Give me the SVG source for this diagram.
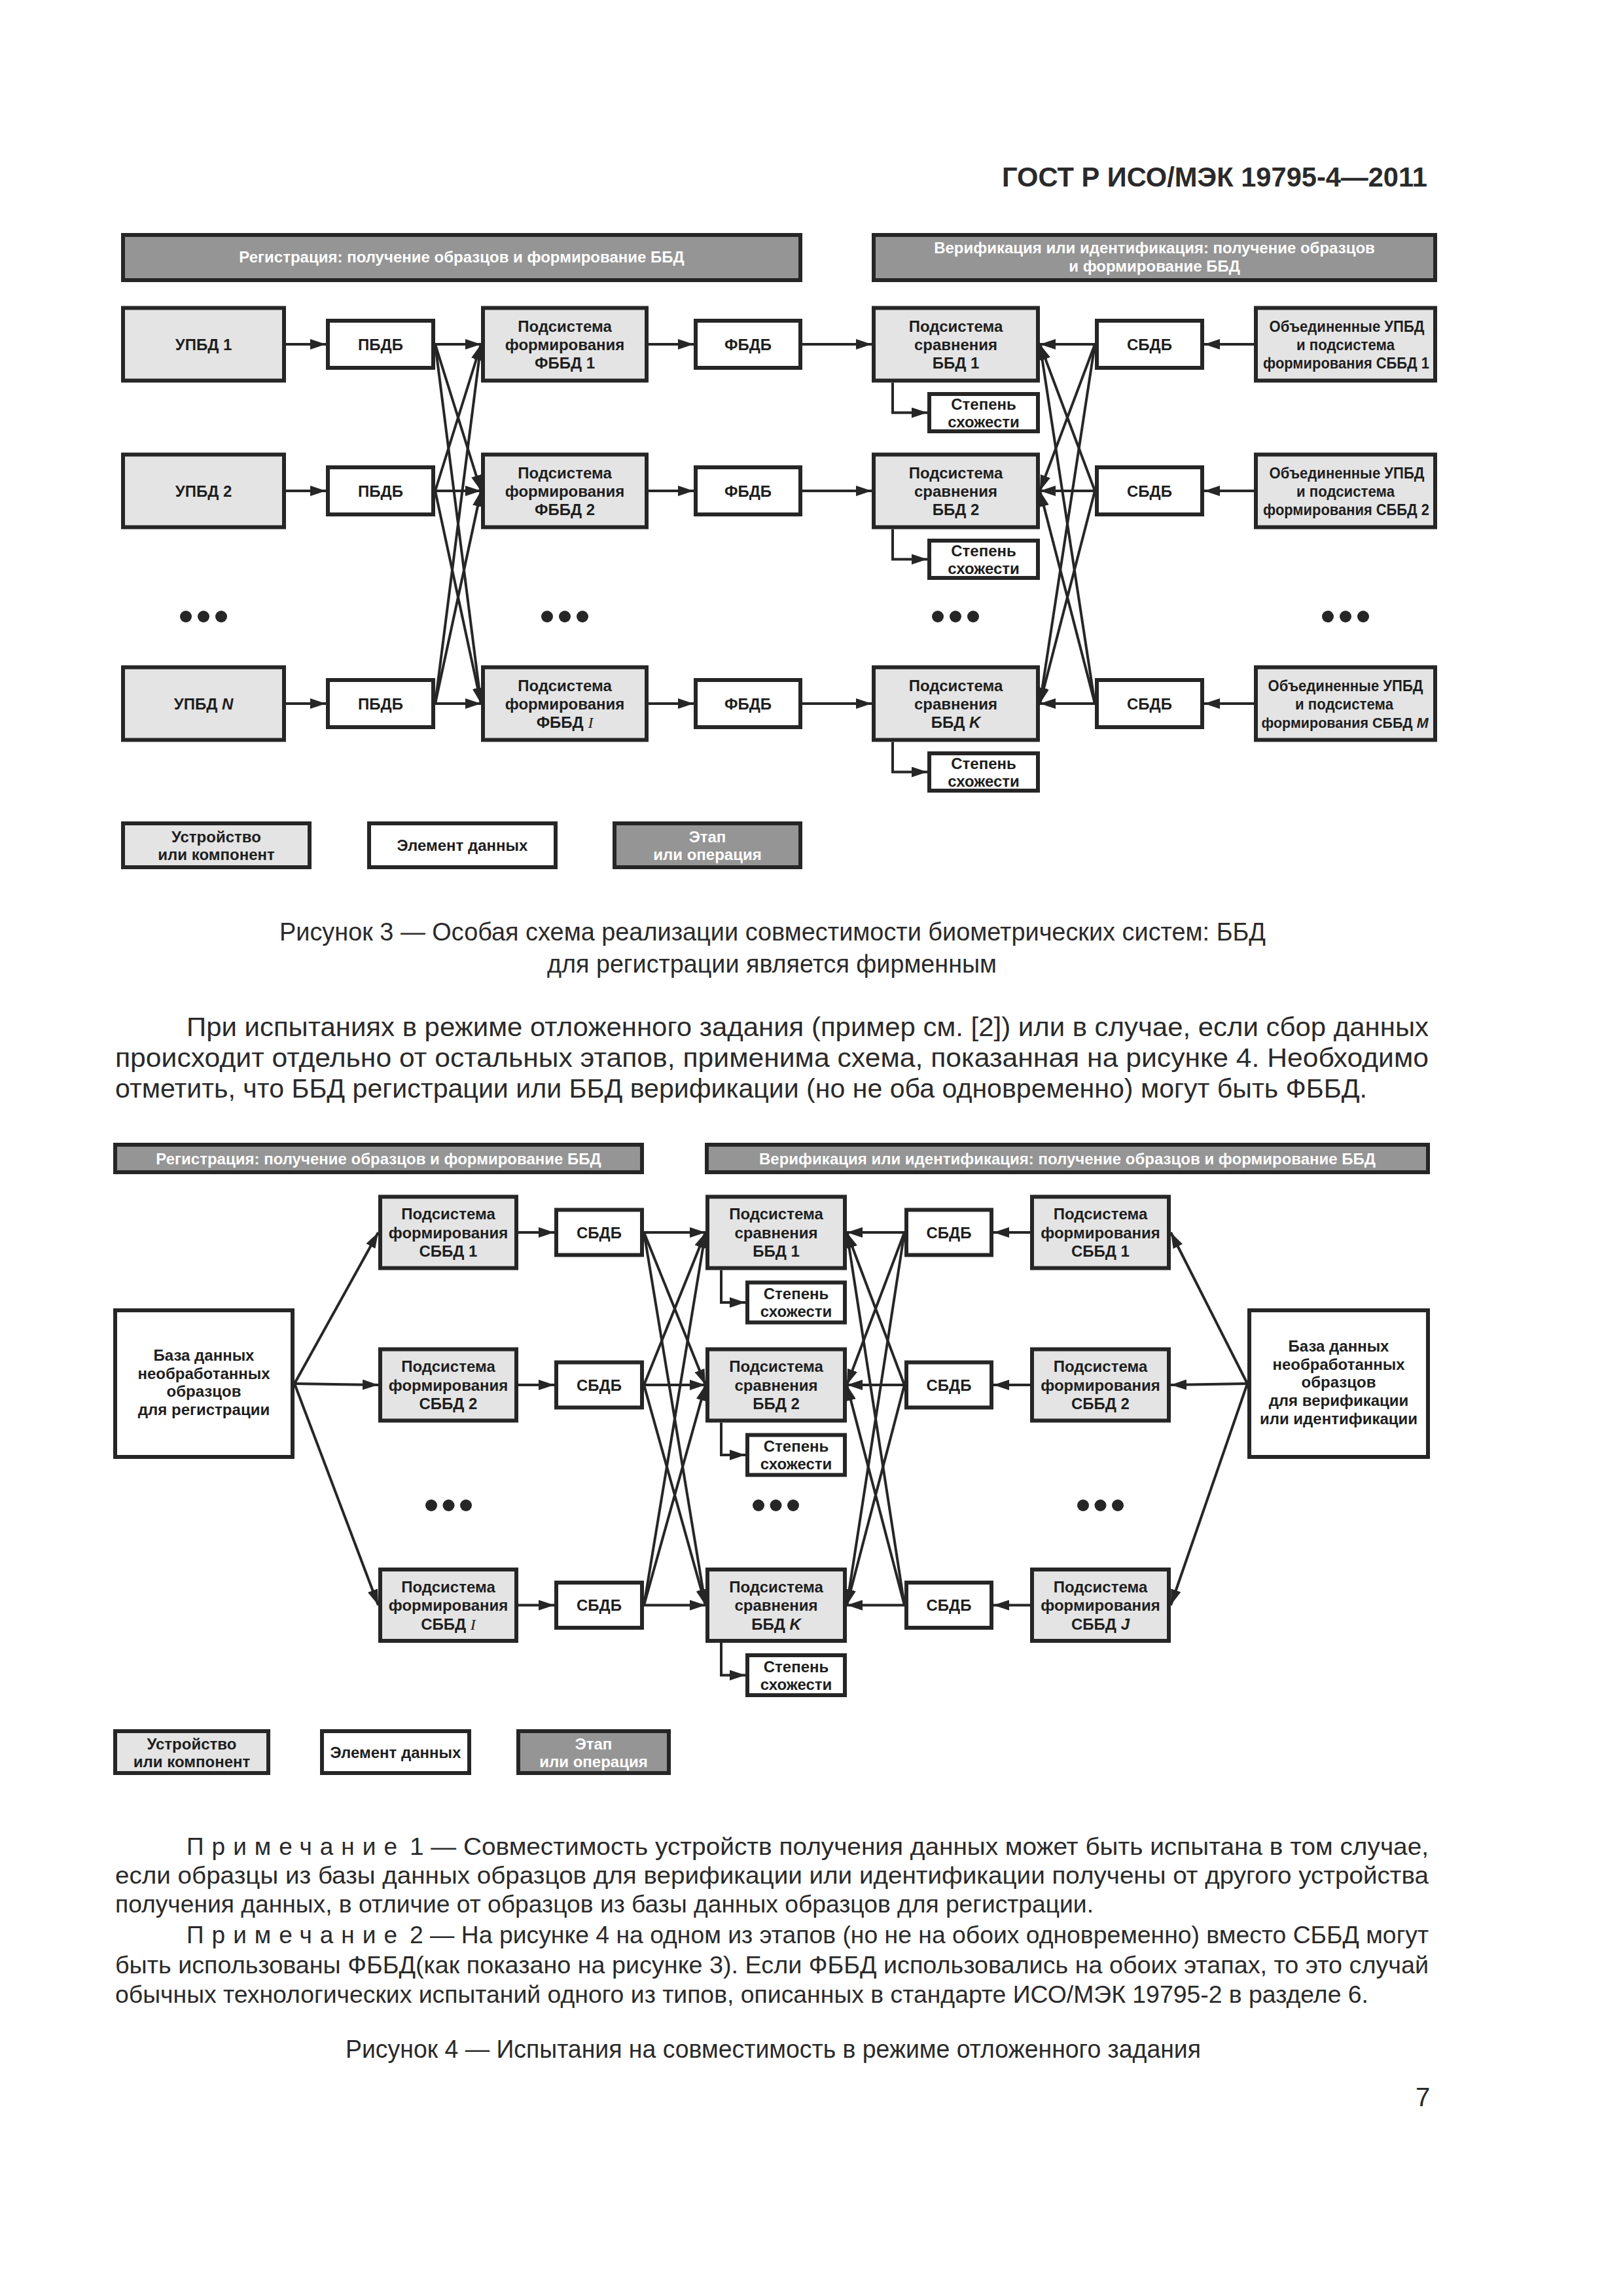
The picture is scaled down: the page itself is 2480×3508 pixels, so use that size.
<svg xmlns="http://www.w3.org/2000/svg" width="2480" height="3508" viewBox="0 0 2480 3508">
<style>
.bg{fill:#ffffff}
.dev{fill:#e4e4e4;stroke:#262626;stroke-width:6}
.dat{fill:#ffffff;stroke:#262626;stroke-width:6}
.stg{fill:#959595;stroke:#262626;stroke-width:6}
.t{font-family:"Liberation Sans",Arial,sans-serif;font-size:24px;font-weight:bold;fill:#1e1e1e;text-anchor:middle}
.tw{font-family:"Liberation Sans",Arial,sans-serif;font-size:24px;font-weight:bold;fill:#ffffff;text-anchor:middle}
.it{font-style:italic}
.ser{font-family:"Liberation Serif","Times New Roman",serif;font-style:italic;font-weight:normal}
.ln{fill:none;stroke:#262626;stroke-width:4;marker-end:url(#ah)}
.dot{fill:#262626}
.body{font-family:"Liberation Sans",Arial,sans-serif;font-size:40px;fill:#2a2a2a}
.note{font-family:"Liberation Sans",Arial,sans-serif;font-size:37px;fill:#2a2a2a}
.cap{font-family:"Liberation Sans",Arial,sans-serif;font-size:38px;fill:#2a2a2a}
.hdr{font-family:"Liberation Sans",Arial,sans-serif;font-size:42px;font-weight:bold;fill:#2a2a2a}
</style>
<defs>
<marker id="ah" markerUnits="userSpaceOnUse" markerWidth="24" markerHeight="16" viewBox="0 0 24 16" refX="24" refY="8" orient="auto">
<path d="M0,0 L24,8 L0,16 z" fill="#262626"/>
</marker>
</defs>
<rect class="bg" x="0" y="0" width="2480" height="3508"/>

<text class="hdr" x="2181" y="285" text-anchor="end" textLength="650" lengthAdjust="spacingAndGlyphs">ГОСТ Р ИСО/МЭК 19795-4—2011</text>

<!-- ================= FIGURE 3 ================= -->
<g id="f3-header-reg"><rect class="stg" x="188" y="359" width="1035" height="69"/><text class="tw" x="705.5" y="400.5">Регистрация: получение образцов и формирование ББД</text></g>
<g id="f3-header-ver"><rect class="stg" x="1335" y="359" width="858" height="69"/><text class="tw" x="1764" y="387">Верификация или идентификация: получение образцов</text><text class="tw" x="1764" y="415">и формирование ББД</text></g>

<g id="f3-upbd1"><rect class="dev" x="188" y="470.5" width="246" height="111"/><text class="t" x="311" y="534.5">УПБД 1</text></g>
<g id="f3-upbd2"><rect class="dev" x="188" y="694.5" width="246" height="111"/><text class="t" x="311" y="758.5">УПБД 2</text></g>
<g id="f3-upbdN"><rect class="dev" x="188" y="1019.5" width="246" height="111"/><text class="t" x="311" y="1083.5">УПБД <tspan class="it">N</tspan></text></g>

<g id="f3-pbdb1"><rect class="dat" x="501" y="490" width="161" height="72"/><text class="t" x="581.5" y="534.5">ПБДБ</text></g>
<g id="f3-pbdb2"><rect class="dat" x="501" y="714" width="161" height="72"/><text class="t" x="581.5" y="758.5">ПБДБ</text></g>
<g id="f3-pbdbN"><rect class="dat" x="501" y="1039" width="161" height="72"/><text class="t" x="581.5" y="1083.5">ПБДБ</text></g>

<g id="f3-fbbd1"><rect class="dev" x="738" y="470.5" width="250" height="111"/><text class="t" x="863" y="506.5">Подсистема</text><text class="t" x="863" y="534.5">формирования</text><text class="t" x="863" y="562.5">ФББД 1</text></g>
<g id="f3-fbbd2"><rect class="dev" x="738" y="694.5" width="250" height="111"/><text class="t" x="863" y="730.5">Подсистема</text><text class="t" x="863" y="758.5">формирования</text><text class="t" x="863" y="786.5">ФББД 2</text></g>
<g id="f3-fbbdI"><rect class="dev" x="738" y="1019.5" width="250" height="111"/><text class="t" x="863" y="1055.5">Подсистема</text><text class="t" x="863" y="1083.5">формирования</text><text class="t" x="863" y="1111.5">ФББД <tspan class="ser">I</tspan></text></g>

<g id="f3-fbdb1"><rect class="dat" x="1063" y="490" width="160" height="72"/><text class="t" x="1143" y="534.5">ФБДБ</text></g>
<g id="f3-fbdb2"><rect class="dat" x="1063" y="714" width="160" height="72"/><text class="t" x="1143" y="758.5">ФБДБ</text></g>
<g id="f3-fbdbN"><rect class="dat" x="1063" y="1039" width="160" height="72"/><text class="t" x="1143" y="1083.5">ФБДБ</text></g>

<g id="f3-cmp1"><rect class="dev" x="1335" y="470.5" width="251" height="111"/><text class="t" x="1460.5" y="506.5">Подсистема</text><text class="t" x="1460.5" y="534.5">сравнения</text><text class="t" x="1460.5" y="562.5">ББД 1</text></g>
<g id="f3-cmp2"><rect class="dev" x="1335" y="694.5" width="251" height="111"/><text class="t" x="1460.5" y="730.5">Подсистема</text><text class="t" x="1460.5" y="758.5">сравнения</text><text class="t" x="1460.5" y="786.5">ББД 2</text></g>
<g id="f3-cmpK"><rect class="dev" x="1335" y="1019.5" width="251" height="111"/><text class="t" x="1460.5" y="1055.5">Подсистема</text><text class="t" x="1460.5" y="1083.5">сравнения</text><text class="t" x="1460.5" y="1111.5">ББД <tspan class="it">K</tspan></text></g>

<g id="f3-score1"><rect class="dat" x="1420" y="602" width="166" height="57"/><text class="t" x="1503" y="625.5">Степень</text><text class="t" x="1503" y="652.5">схожести</text></g>
<g id="f3-score2"><rect class="dat" x="1420" y="826" width="166" height="57"/><text class="t" x="1503" y="849.5">Степень</text><text class="t" x="1503" y="876.5">схожести</text></g>
<g id="f3-scoreK"><rect class="dat" x="1420" y="1151" width="166" height="57"/><text class="t" x="1503" y="1174.5">Степень</text><text class="t" x="1503" y="1201.5">схожести</text></g>

<g id="f3-sbdb1"><rect class="dat" x="1676" y="490" width="161" height="72"/><text class="t" x="1756.5" y="534.5">СБДБ</text></g>
<g id="f3-sbdb2"><rect class="dat" x="1676" y="714" width="161" height="72"/><text class="t" x="1756.5" y="758.5">СБДБ</text></g>
<g id="f3-sbdbK"><rect class="dat" x="1676" y="1039" width="161" height="72"/><text class="t" x="1756.5" y="1083.5">СБДБ</text></g>

<g id="f3-comb1"><rect class="dev" x="1919" y="470.5" width="274" height="111"/><text class="t" x="2058" y="506.5" textLength="237" lengthAdjust="spacingAndGlyphs">Объединенные УПБД</text><text class="t" x="2056" y="534.5" textLength="150" lengthAdjust="spacingAndGlyphs">и подсистема</text><text class="t" x="2057" y="562.5" textLength="254" lengthAdjust="spacingAndGlyphs">формирования СББД 1</text></g>
<g id="f3-comb2"><rect class="dev" x="1919" y="694.5" width="274" height="111"/><text class="t" x="2058" y="730.5" textLength="237" lengthAdjust="spacingAndGlyphs">Объединенные УПБД</text><text class="t" x="2056" y="758.5" textLength="150" lengthAdjust="spacingAndGlyphs">и подсистема</text><text class="t" x="2057" y="786.5" textLength="254" lengthAdjust="spacingAndGlyphs">формирования СББД 2</text></g>
<g id="f3-combM"><rect class="dev" x="1919" y="1019.5" width="274" height="111"/><text class="t" x="2056" y="1055.5" textLength="237" lengthAdjust="spacingAndGlyphs">Объединенные УПБД</text><text class="t" x="2054" y="1083.5" textLength="150" lengthAdjust="spacingAndGlyphs">и подсистема</text><text class="t" x="2055" y="1111.5" style="font-size:21.5px">формирования СББД <tspan class="it">M</tspan></text></g>

<g id="f3-dots">
<circle class="dot" cx="284" cy="942" r="9"/><circle class="dot" cx="311" cy="942" r="9"/><circle class="dot" cx="338" cy="942" r="9"/>
<circle class="dot" cx="836" cy="942" r="9"/><circle class="dot" cx="863" cy="942" r="9"/><circle class="dot" cx="890" cy="942" r="9"/>
<circle class="dot" cx="1433" cy="942" r="9"/><circle class="dot" cx="1460" cy="942" r="9"/><circle class="dot" cx="1487" cy="942" r="9"/>
<circle class="dot" cx="2029" cy="942" r="9"/><circle class="dot" cx="2056" cy="942" r="9"/><circle class="dot" cx="2083" cy="942" r="9"/>
</g>

<g id="f3-connectors">
<line class="ln" x1="437" y1="526" x2="498" y2="526"/>
<line class="ln" x1="437" y1="750" x2="498" y2="750"/>
<line class="ln" x1="437" y1="1075" x2="498" y2="1075"/>
<line class="ln" x1="665" y1="526" x2="735" y2="526"/>
<line class="ln" x1="665" y1="750" x2="735" y2="750"/>
<line class="ln" x1="665" y1="1075" x2="735" y2="1075"/>
<line class="ln" x1="665" y1="526" x2="735" y2="750"/>
<line class="ln" x1="665" y1="526" x2="735" y2="1075"/>
<line class="ln" x1="665" y1="750" x2="735" y2="526"/>
<line class="ln" x1="665" y1="750" x2="735" y2="1075"/>
<line class="ln" x1="665" y1="1075" x2="735" y2="526"/>
<line class="ln" x1="665" y1="1075" x2="735" y2="750"/>
<line class="ln" x1="991" y1="526" x2="1060" y2="526"/>
<line class="ln" x1="991" y1="750" x2="1060" y2="750"/>
<line class="ln" x1="991" y1="1075" x2="1060" y2="1075"/>
<line class="ln" x1="1226" y1="526" x2="1332" y2="526"/>
<line class="ln" x1="1226" y1="750" x2="1332" y2="750"/>
<line class="ln" x1="1226" y1="1075" x2="1332" y2="1075"/>
<line class="ln" x1="1673" y1="526" x2="1589" y2="526"/>
<line class="ln" x1="1673" y1="750" x2="1589" y2="750"/>
<line class="ln" x1="1673" y1="1075" x2="1589" y2="1075"/>
<line class="ln" x1="1673" y1="526" x2="1589" y2="750"/>
<line class="ln" x1="1673" y1="526" x2="1589" y2="1075"/>
<line class="ln" x1="1673" y1="750" x2="1589" y2="526"/>
<line class="ln" x1="1673" y1="750" x2="1589" y2="1075"/>
<line class="ln" x1="1673" y1="1075" x2="1589" y2="526"/>
<line class="ln" x1="1673" y1="1075" x2="1589" y2="750"/>
<line class="ln" x1="1916" y1="526" x2="1840" y2="526"/>
<line class="ln" x1="1916" y1="750" x2="1840" y2="750"/>
<line class="ln" x1="1916" y1="1075" x2="1840" y2="1075"/>
<path class="ln" d="M1364,584.5 V630.5 H1417"/>
<path class="ln" d="M1364,808.5 V854.5 H1417"/>
<path class="ln" d="M1364,1133.5 V1179.5 H1417"/>
</g>

<g id="f3-legend-device"><rect class="dev" x="188" y="1258" width="285" height="67"/><text class="t" x="330.5" y="1286.5">Устройство</text><text class="t" x="330.5" y="1313.5">или компонент</text></g>
<g id="f3-legend-data"><rect class="dat" x="564" y="1258" width="285" height="67"/><text class="t" x="706.5" y="1300">Элемент данных</text></g>
<g id="f3-legend-stage"><rect class="stg" x="939" y="1258" width="284" height="67"/><text class="tw" x="1081" y="1286.5">Этап</text><text class="tw" x="1081" y="1313.5">или операция</text></g>

<text class="cap" x="427" y="1437" textLength="1507" lengthAdjust="spacingAndGlyphs">Рисунок  3 — Особая схема реализации совместимости биометрических систем: ББД</text>
<text class="cap" x="836" y="1486" textLength="687" lengthAdjust="spacingAndGlyphs">для регистрации является фирменным</text>

<text class="body" x="285" y="1583" textLength="1898" lengthAdjust="spacingAndGlyphs">При испытаниях в режиме отложенного задания (пример см. [2]) или в случае, если сбор данных</text>
<text class="body" x="176" y="1630" textLength="2007" lengthAdjust="spacingAndGlyphs">происходит отдельно от остальных этапов, применима схема, показанная на рисунке 4. Необходимо</text>
<text class="body" x="176" y="1677" textLength="1913" lengthAdjust="spacingAndGlyphs">отметить, что ББД регистрации или ББД верификации (но не оба одновременно) могут быть ФББД.</text>

<!-- ================= FIGURE 4 ================= -->
<g id="f4-header-reg"><rect class="stg" x="176" y="1749" width="805" height="42"/><text class="tw" x="578.5" y="1778.5">Регистрация: получение образцов и формирование ББД</text></g>
<g id="f4-header-ver"><rect class="stg" x="1080" y="1749" width="1102" height="42"/><text class="tw" x="1631" y="1778.5">Верификация или идентификация: получение образцов и формирование ББД</text></g>

<g id="f4-rawdb-reg"><rect class="dat" x="176" y="2002" width="271" height="224"/><text class="t" x="311.5" y="2079">База данных</text><text class="t" x="311.5" y="2107">необработанных</text><text class="t" x="311.5" y="2134">образцов</text><text class="t" x="311.5" y="2162">для регистрации</text></g>

<g id="f4-genL1"><rect class="dev" x="581" y="1828.5" width="208" height="109"/><text class="t" x="685" y="1863">Подсистема</text><text class="t" x="685" y="1891.5">формирования</text><text class="t" x="685" y="1920">СББД 1</text></g>
<g id="f4-genL2"><rect class="dev" x="581" y="2061.5" width="208" height="109"/><text class="t" x="685" y="2096">Подсистема</text><text class="t" x="685" y="2124.5">формирования</text><text class="t" x="685" y="2153">СББД 2</text></g>
<g id="f4-genLI"><rect class="dev" x="581" y="2398" width="208" height="109"/><text class="t" x="685" y="2432.5">Подсистема</text><text class="t" x="685" y="2461">формирования</text><text class="t" x="685" y="2489.5">СББД <tspan class="ser">I</tspan></text></g>

<g id="f4-sbdbL1"><rect class="dat" x="850" y="1848.5" width="131" height="69"/><text class="t" x="915.5" y="1891.5">СБДБ</text></g>
<g id="f4-sbdbL2"><rect class="dat" x="850" y="2081.5" width="131" height="69"/><text class="t" x="915.5" y="2124.5">СБДБ</text></g>
<g id="f4-sbdbLI"><rect class="dat" x="850" y="2418" width="131" height="69"/><text class="t" x="915.5" y="2461">СБДБ</text></g>

<g id="f4-cmp1"><rect class="dev" x="1081" y="1828.5" width="210" height="109"/><text class="t" x="1186" y="1863">Подсистема</text><text class="t" x="1186" y="1891.5">сравнения</text><text class="t" x="1186" y="1920">ББД 1</text></g>
<g id="f4-cmp2"><rect class="dev" x="1081" y="2061.5" width="210" height="109"/><text class="t" x="1186" y="2096">Подсистема</text><text class="t" x="1186" y="2124.5">сравнения</text><text class="t" x="1186" y="2153">ББД 2</text></g>
<g id="f4-cmpK"><rect class="dev" x="1081" y="2398" width="210" height="109"/><text class="t" x="1186" y="2432.5">Подсистема</text><text class="t" x="1186" y="2461">сравнения</text><text class="t" x="1186" y="2489.5">ББД <tspan class="it">K</tspan></text></g>

<g id="f4-score1"><rect class="dat" x="1142" y="1959.5" width="149" height="61"/><text class="t" x="1216.5" y="1985">Степень</text><text class="t" x="1216.5" y="2012">схожести</text></g>
<g id="f4-score2"><rect class="dat" x="1142" y="2192.5" width="149" height="61"/><text class="t" x="1216.5" y="2218">Степень</text><text class="t" x="1216.5" y="2245">схожести</text></g>
<g id="f4-scoreK"><rect class="dat" x="1142" y="2529" width="149" height="61"/><text class="t" x="1216.5" y="2554.5">Степень</text><text class="t" x="1216.5" y="2581.5">схожести</text></g>

<g id="f4-sbdbR1"><rect class="dat" x="1385" y="1848.5" width="130" height="69"/><text class="t" x="1450" y="1891.5">СБДБ</text></g>
<g id="f4-sbdbR2"><rect class="dat" x="1385" y="2081.5" width="130" height="69"/><text class="t" x="1450" y="2124.5">СБДБ</text></g>
<g id="f4-sbdbRJ"><rect class="dat" x="1385" y="2418" width="130" height="69"/><text class="t" x="1450" y="2461">СБДБ</text></g>

<g id="f4-genR1"><rect class="dev" x="1577" y="1828.5" width="209" height="109"/><text class="t" x="1681.5" y="1863">Подсистема</text><text class="t" x="1681.5" y="1891.5">формирования</text><text class="t" x="1681.5" y="1920">СББД 1</text></g>
<g id="f4-genR2"><rect class="dev" x="1577" y="2061.5" width="209" height="109"/><text class="t" x="1681.5" y="2096">Подсистема</text><text class="t" x="1681.5" y="2124.5">формирования</text><text class="t" x="1681.5" y="2153">СББД 2</text></g>
<g id="f4-genRJ"><rect class="dev" x="1577" y="2398" width="209" height="109"/><text class="t" x="1681.5" y="2432.5">Подсистема</text><text class="t" x="1681.5" y="2461">формирования</text><text class="t" x="1681.5" y="2489.5">СББД <tspan class="it">J</tspan></text></g>

<g id="f4-rawdb-ver"><rect class="dat" x="1909" y="2002" width="273" height="224"/><text class="t" x="2045.5" y="2065">База данных</text><text class="t" x="2045.5" y="2092.5">необработанных</text><text class="t" x="2045.5" y="2120">образцов</text><text class="t" x="2045.5" y="2148">для верификации</text><text class="t" x="2045.5" y="2176">или идентификации</text></g>

<g id="f4-dots">
<circle class="dot" cx="659" cy="2300" r="9"/><circle class="dot" cx="685.5" cy="2300" r="9"/><circle class="dot" cx="712" cy="2300" r="9"/>
<circle class="dot" cx="1159" cy="2300" r="9"/><circle class="dot" cx="1185.5" cy="2300" r="9"/><circle class="dot" cx="1212" cy="2300" r="9"/>
<circle class="dot" cx="1655" cy="2300" r="9"/><circle class="dot" cx="1681.5" cy="2300" r="9"/><circle class="dot" cx="1708" cy="2300" r="9"/>
</g>

<g id="f4-connectors">
<line class="ln" x1="450" y1="2114" x2="578" y2="1883"/>
<line class="ln" x1="450" y1="2114" x2="578" y2="2116"/>
<line class="ln" x1="450" y1="2114" x2="578" y2="2452.5"/>
<line class="ln" x1="792" y1="1883" x2="847" y2="1883"/>
<line class="ln" x1="792" y1="2116" x2="847" y2="2116"/>
<line class="ln" x1="792" y1="2452.5" x2="847" y2="2452.5"/>
<line class="ln" x1="984" y1="1883" x2="1078" y2="1883"/>
<line class="ln" x1="984" y1="2116" x2="1078" y2="2116"/>
<line class="ln" x1="984" y1="2452.5" x2="1078" y2="2452.5"/>
<line class="ln" x1="984" y1="1883" x2="1078" y2="2116"/>
<line class="ln" x1="984" y1="1883" x2="1078" y2="2452.5"/>
<line class="ln" x1="984" y1="2116" x2="1078" y2="1883"/>
<line class="ln" x1="984" y1="2116" x2="1078" y2="2452.5"/>
<line class="ln" x1="984" y1="2452.5" x2="1078" y2="1883"/>
<line class="ln" x1="984" y1="2452.5" x2="1078" y2="2116"/>
<line class="ln" x1="1382" y1="1883" x2="1294" y2="1883"/>
<line class="ln" x1="1382" y1="2116" x2="1294" y2="2116"/>
<line class="ln" x1="1382" y1="2452.5" x2="1294" y2="2452.5"/>
<line class="ln" x1="1382" y1="1883" x2="1294" y2="2116"/>
<line class="ln" x1="1382" y1="1883" x2="1294" y2="2452.5"/>
<line class="ln" x1="1382" y1="2116" x2="1294" y2="1883"/>
<line class="ln" x1="1382" y1="2116" x2="1294" y2="2452.5"/>
<line class="ln" x1="1382" y1="2452.5" x2="1294" y2="1883"/>
<line class="ln" x1="1382" y1="2452.5" x2="1294" y2="2116"/>
<line class="ln" x1="1574" y1="1883" x2="1518" y2="1883"/>
<line class="ln" x1="1574" y1="2116" x2="1518" y2="2116"/>
<line class="ln" x1="1574" y1="2452.5" x2="1518" y2="2452.5"/>
<line class="ln" x1="1906" y1="2114" x2="1789" y2="1883"/>
<line class="ln" x1="1906" y1="2114" x2="1789" y2="2116"/>
<line class="ln" x1="1906" y1="2114" x2="1789" y2="2452.5"/>
<path class="ln" d="M1102,1940.5 V1990 H1139"/>
<path class="ln" d="M1102,2173.5 V2223 H1139"/>
<path class="ln" d="M1102,2510 V2559.5 H1139"/>
</g>

<g id="f4-legend-device"><rect class="dev" x="176" y="2645" width="234" height="64"/><text class="t" x="293" y="2673">Устройство</text><text class="t" x="293" y="2700">или компонент</text></g>
<g id="f4-legend-data"><rect class="dat" x="492" y="2645" width="225" height="64"/><text class="t" x="604.5" y="2685.5">Элемент данных</text></g>
<g id="f4-legend-stage"><rect class="stg" x="792" y="2645" width="230" height="64"/><text class="tw" x="907" y="2673">Этап</text><text class="tw" x="907" y="2700">или операция</text></g>

<text class="note" x="285" y="2834" textLength="322" lengthAdjust="spacing">Примечание</text>
<text class="note" x="626" y="2834" textLength="1557" lengthAdjust="spacingAndGlyphs">1 — Совместимость устройств получения данных может быть испытана в том случае,</text>
<text class="note" x="176" y="2878" textLength="2007" lengthAdjust="spacingAndGlyphs">если образцы из базы данных образцов для верификации или идентификации получены от другого устройства</text>
<text class="note" x="176" y="2922" textLength="1495" lengthAdjust="spacingAndGlyphs">получения данных, в отличие от образцов из базы данных образцов для регистрации.</text>
<text class="note" x="285" y="2969" textLength="322" lengthAdjust="spacing">Примечание</text>
<text class="note" x="626" y="2969" textLength="1557" lengthAdjust="spacingAndGlyphs">2 — На рисунке 4 на одном из этапов (но не на обоих одновременно) вместо СББД могут</text>
<text class="note" x="176" y="3015" textLength="2007" lengthAdjust="spacingAndGlyphs">быть использованы ФББД(как показано на рисунке 3). Если ФББД использовались на обоих этапах, то это случай</text>
<text class="note" x="176" y="3060" textLength="1915" lengthAdjust="spacingAndGlyphs">обычных технологических испытаний одного из типов, описанных в стандарте ИСО/МЭК 19795-2 в разделе 6.</text>

<text class="cap" x="528" y="3144" textLength="1307" lengthAdjust="spacingAndGlyphs">Рисунок 4 — Испытания на совместимость в режиме отложенного задания</text>

<text class="body" x="2174" y="3218" text-anchor="middle">7</text>
</svg>
